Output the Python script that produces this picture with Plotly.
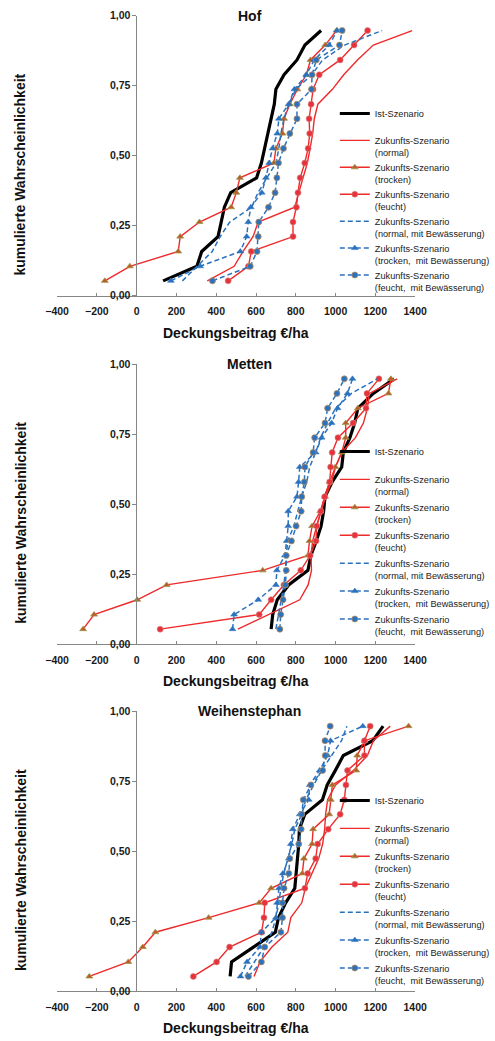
import plotly.graph_objects as go

# cumulative probability levels (y values)
P = [0.053, 0.105, 0.158, 0.211, 0.263, 0.316, 0.368, 0.421, 0.474,
     0.526, 0.579, 0.632, 0.684, 0.737, 0.789, 0.842, 0.895, 0.947]

X_TICKS = [-400, -200, 0, 200, 400, 600, 800, 1000, 1200, 1400]
Y_TICKS = [0, 0.25, 0.5, 0.75, 1.0]
Y_TICKTEXT = ["0,00", "0,25", "0,50", "0,75", "1,00"]

SERIES_NAMES = [
    "Ist-Szenario",
    "Zukunfts-Szenario<br>(normal)",
    "Zukunfts-Szenario<br>(trocken)",
    "Zukunfts-Szenario<br>(feucht)",
    "Zukunfts-Szenario<br>(normal, mit Bewässerung)",
    "Zukunfts-Szenario<br>(trocken,  mit Bewässerung)",
    "Zukunfts-Szenario<br>(feucht,  mit Bewässerung)",
]

# ---- Hof ----
hof_ist = [133, 303, 327, 409, 425, 441, 473, 603, 627, 644, 660, 676, 692, 700, 741, 806, 846, 927]
hof_normal = [355, 490, 535, 585, 611, 795, 815, 835, 858, 872, 885, 893, 911, 984, 1041, 1110, 1190, 1385]
hof_trocken = [-160, -34, 209, 219, 316, 475, 501, 519, 690, 700, 733, 741, 770, 808, 853, 874, 948, 1005]
hof_feucht = [460, 562, 576, 786, 786, 803, 811, 822, 845, 862, 870, 867, 877, 887, 918, 1023, 1093, 1161]
hof_normal_bew = [230, 303, 380, 420, 468, 578, 610, 655, 700, 715, 725, 740, 765, 800, 880, 935, 1045, 1234]
hof_trocken_bew = [172, 319, 521, 553, 561, 574, 629, 650, 666, 683, 707, 715, 764, 793, 853, 893, 968, 1008]
hof_feucht_bew = [381, 571, 605, 611, 614, 663, 696, 705, 713, 738, 770, 806, 806, 879, 882, 903, 1020, 1033]

# ---- Metten ----
met_ist = [676, 684, 707, 764, 861, 876, 903, 927, 940, 947, 983, 1031, 1039, 1072, 1096, 1112, 1190, 1294]
met_normal = [509, 665, 820, 862, 879, 876, 885, 905, 928, 950, 980, 1000, 1031, 1100, 1140, 1160, 1170, 1310]
met_trocken = [-269, -214, 3, 151, 634, 861, 869, 882, 923, 947, 970, 999, 1031, 1051, 1051, 1112, 1266, 1278]
met_feucht = [118, 616, 676, 740, 825, 872, 902, 905, 926, 945, 970, 975, 983, 1012, 1088, 1153, 1158, 1218]
met_normal_bew = [700, 712, 728, 740, 748, 752, 760, 790, 810, 830, 855, 870, 900, 925, 960, 1000, 1080, 1210]
met_trocken_bew = [482, 490, 611, 700, 705, 745, 754, 762, 762, 806, 814, 820, 900, 930, 980, 1010, 1060, 1085]
met_feucht_bew = [720, 724, 736, 748, 752, 752, 778, 802, 827, 830, 843, 846, 887, 895, 947, 960, 1007, 1044]

# ---- Weihenstephan ----
wei_ist = [470, 477, 587, 697, 713, 749, 795, 803, 811, 815, 818, 845, 934, 958, 999, 1039, 1187, 1239]
wei_normal = [590, 620, 680, 760, 775, 830, 848, 880, 915, 935, 945, 950, 960, 1000, 1090, 1160, 1190, 1275]
wei_trocken = [-238, -42, 31, 94, 362, 616, 676, 833, 841, 882, 887, 968, 976, 984, 1104, 1109, 1146, 1367]
wei_feucht = [285, 402, 467, 628, 640, 644, 846, 860, 900, 910, 963, 1023, 1044, 1052, 1060, 1145, 1145, 1174]
wei_normal_bew = [545, 590, 640, 680, 700, 715, 725, 740, 760, 780, 795, 830, 850, 890, 930, 980, 1030, 1057]
wei_trocken_bew = [522, 555, 620, 627, 700, 706, 715, 735, 765, 775, 785, 820, 865, 870, 920, 960, 975, 1137]
wei_feucht_bew = [562, 627, 644, 725, 733, 733, 741, 765, 770, 815, 827, 830, 838, 876, 935, 948, 947, 973]

PANELS = [
    ("Hof", [hof_ist, hof_normal, hof_trocken, hof_feucht, hof_normal_bew, hof_trocken_bew, hof_feucht_bew]),
    ("Metten", [met_ist, met_normal, met_trocken, met_feucht, met_normal_bew, met_trocken_bew, met_feucht_bew]),
    ("Weihenstephan", [wei_ist, wei_normal, wei_trocken, wei_feucht, wei_normal_bew, wei_trocken_bew, wei_feucht_bew]),
]

RED = "#EE2A2A"
BLUE = "#2B72BE"
STYLES = [
    dict(mode="lines", line=dict(color="#000000", width=3.2)),
    dict(mode="lines", line=dict(color=RED, width=1.4)),
    dict(mode="lines+markers", line=dict(color=RED, width=1.4),
         marker=dict(symbol="triangle-up", size=6, color="#C0582E", line=dict(color="#9A9A48", width=0.8))),
    dict(mode="lines+markers", line=dict(color=RED, width=1.4),
         marker=dict(symbol="circle", size=6, color="#E8323A", line=dict(color="#D08A8A", width=0.6))),
    dict(mode="lines", line=dict(color=BLUE, width=1.5, dash="5px,3px")),
    dict(mode="lines+markers", line=dict(color=BLUE, width=1.5, dash="5px,3px"),
         marker=dict(symbol="triangle-up", size=6, color=BLUE, line=dict(color=BLUE, width=0.5))),
    dict(mode="lines+markers", line=dict(color=BLUE, width=1.5, dash="5px,3px"),
         marker=dict(symbol="circle", size=6, color=BLUE, line=dict(color="#B88A58", width=0.8))),
]

W, H = 495, 1041
FONT = "Liberation Sans, Arial, sans-serif"
PLOT_TOPS = [15.7, 364.0, 711.3]
PLOT_H = 280.0
X_LEFT, X_RIGHT, X_ZERO = 59.0, 429.0, 141.0
LEGEND_TOPS = [101.0, 439.0, 788.0]
LEGEND_X = 346.0

fig = go.Figure()
annotations = []
layout_axes = {}

for k, (title, series) in enumerate(PANELS):
    sfx = "" if k == 0 else str(k + 1)
    leg = "legend" if k == 0 else "legend" + str(k + 1)
    for j, (name, xs) in enumerate(zip(SERIES_NAMES, series)):
        st = STYLES[j]
        fig.add_trace(go.Scatter(
            x=xs, y=P, name=name if j > 0 else "Ist-Szenario<br> ",
            xaxis="x" + sfx, yaxis="y" + sfx, legend=leg,
            legendgroup=f"{k}-{j}", cliponaxis=False, **st))
    top = PLOT_TOPS[k]
    y0 = 1 - (top + PLOT_H) / H
    y1 = 1 - top / H
    layout_axes["xaxis" + sfx] = dict(
        domain=[X_LEFT / W, X_RIGHT / W], range=[-400, 1400], anchor="y" + sfx,
        tickvals=X_TICKS, ticks="inside", ticklen=3, tickcolor="#868686",
        showline=True, linecolor="#868686", linewidth=1, showgrid=False, zeroline=False,
        tickfont=dict(family=FONT, size=10.5, color="#1a1a1a", weight="bold"),
        ticklabelstandoff=6, fixedrange=True)
    layout_axes["yaxis" + sfx] = dict(
        domain=[y0, y1], range=[0, 1], anchor="free", position=X_ZERO / W,
        tickvals=Y_TICKS, ticktext=Y_TICKTEXT, ticks="outside", ticklen=4, tickcolor="#868686",
        showline=True, linecolor="#868686", linewidth=1, showgrid=False, zeroline=False,
        tickfont=dict(family=FONT, size=10.5, color="#1a1a1a", weight="bold"), fixedrange=True)
    layout_axes[leg] = dict(
        x=LEGEND_X / W, xanchor="left", y=1 - LEGEND_TOPS[k] / H, yanchor="top",
        bgcolor="rgba(0,0,0,0)", borderwidth=0, valign="top",
        font=dict(family=FONT, size=9.2, color="#222222"),
        tracegroupgap=0 if k == 0 else 1)
    annotations.append(dict(text=title, x=258 / W, y=1 - top / H, xref="paper", yref="paper",
                            showarrow=False, xanchor="center", yanchor="middle",
                            font=dict(family=FONT, size=14, color="#111111", weight="bold")))
    annotations.append(dict(text="Deckungsbeitrag €/ha", x=244 / W, y=1 - (top + 317) / H,
                            xref="paper", yref="paper", showarrow=False, xanchor="center",
                            yanchor="middle",
                            font=dict(family=FONT, size=14, color="#111111", weight="bold")))
    annotations.append(dict(text="kumulierte Wahrscheinlichkeit", x=21 / W, y=1 - (top + 158.5) / H,
                            xref="paper", yref="paper", showarrow=False, textangle=-90,
                            xanchor="center", yanchor="middle",
                            font=dict(family=FONT, size=14, color="#111111", weight="bold")))

fig.update_layout(
    width=W, height=H, template="none",
    margin=dict(l=0, r=0, t=0, b=0, pad=0),
    paper_bgcolor="white", plot_bgcolor="white",
    annotations=annotations, showlegend=True, hovermode=False,
    **layout_axes)

fig.write_html("out.html", config={"displayModeBar": False, "staticPlot": True},
               post_script="document.body.style.margin='0';document.body.style.overflow='hidden';")
